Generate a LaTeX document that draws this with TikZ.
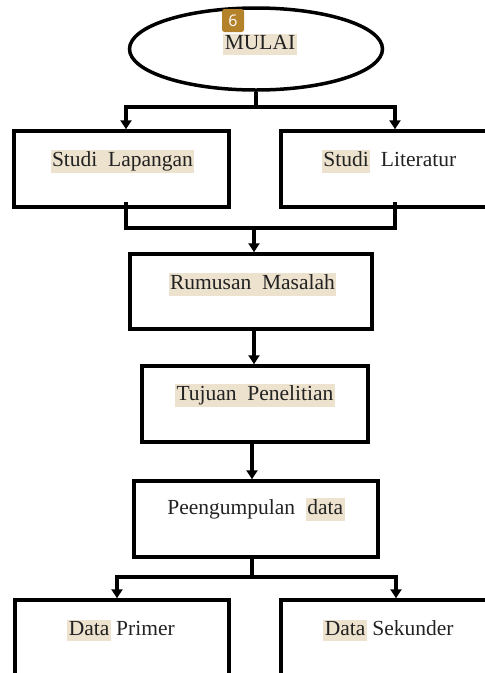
\documentclass[tikz,border=0pt]{standalone}
\usepackage{fontspec}
\setmainfont{Liberation Serif}
\newfontfamily\badgefont{Open Sans}
\usetikzlibrary{arrows.meta,shapes.geometric}
\definecolor{hlc}{HTML}{EDE2CE}
\definecolor{badgec}{HTML}{B5822C}
\definecolor{txtc}{HTML}{222222}
\newcommand{\hlt}[1]{{\setlength{\fboxsep}{1.5pt}\colorbox{hlc}{\vphantom{Ag}#1}}}
\newcommand{\dsp}{\hspace{0.5em}}
\tikzset{
  box/.style={draw=black, line width=3.5pt, rectangle, inner sep=0pt},
  lbl/.style={inner sep=0pt, text=txtc, font=\fontsize{21.5}{25}\selectfont},
  conn/.style={draw=black, line width=3.5pt},
  arr/.style={conn, -{Triangle[width=11pt,length=9pt]}},
  arrboth/.style={conn, {Triangle[width=11pt,length=9pt]}-{Triangle[width=11pt,length=9pt]}},
  badge/.style={fill=badgec, rounded corners=2.5pt, text=white, inner sep=0pt,
     minimum width=22pt, minimum height=23pt, font=\badgefont\fontsize{16}{19}\selectfont}
}
\begin{document}
\begin{tikzpicture}[x=1pt,y=-1pt]
\useasboundingbox (0,0) rectangle (485,673);
\clip (0,0) rectangle (485,673);
% shapes
\node[draw=black, line width=3.5pt, ellipse, minimum width=253pt, minimum height=82pt, inner sep=0pt] (start) at (256,49) {};
\node[box, minimum width=215pt, minimum height=76pt] (lap) at (121.5,169) {};
\node[box, minimum width=216pt, minimum height=76pt] (lit) at (389,169) {};
\node[box, minimum width=242pt, minimum height=75pt] (rum) at (251,291.5) {};
\node[box, minimum width=226pt, minimum height=76pt] (tuj) at (255,404) {};
\node[box, minimum width=244pt, minimum height=76pt] (peng) at (256,519) {};
\node[box, minimum width=214pt, minimum height=76pt] (prim) at (122,638) {};
\node[box, minimum width=216pt, minimum height=76pt] (sek) at (389,638) {};
% labels
\node[lbl] (tstart) at (260,44.5) {\hlt{MULAI}};
\node[lbl] (tlap) at (122.5,161.5) {\hlt{Studi\dsp Lapangan}};
\node[lbl] (tlit) at (389,161.5) {\hlt{Studi}\dsp Literatur};
\node[lbl] (trum) at (252.5,284.5) {\hlt{Rumusan\dsp Masalah}};
\node[lbl] (ttuj) at (255,395.5) {\hlt{Tujuan\dsp Penelitian}};
\node[lbl] (tpeng) at (256,509.5) {Peengumpulan\dsp \hlt{data}};
\node[lbl] (tprim) at (121,630.5) {\hlt{Data} Primer};
\node[lbl] (tsek) at (388.5,630.5) {\hlt{Data} Sekunder};
\node[badge] (badge) at (233,20.5) {6};
% junctions
\coordinate (j1) at (256,107);
\coordinate (j2) at (254,228);
\coordinate (j3) at (252,577);
% connectors
\draw[conn] (start.south) -- (j1);
\draw[arrboth] ([xshift=4.5pt]lap.north) |- (j1) -| ([xshift=6pt]lit.north);
\draw[conn] ([xshift=4.5pt,yshift=7pt]lap.south) |- (j2) -| ([xshift=6pt,yshift=7pt]lit.south);
\draw[arr] (j2) -- ([xshift=3pt]rum.north);
\draw[arr] ([xshift=3pt]rum.south) -- ([xshift=-1pt]tuj.north);
\draw[arr] ([xshift=-3pt]tuj.south) -- ([xshift=-4pt]peng.north);
\draw[conn] ([xshift=-4pt]peng.south) -- (j3);
\draw[arrboth] ([xshift=-5pt]prim.north) |- (j3) -| ([xshift=7pt]sek.north);
\end{tikzpicture}
\end{document}
